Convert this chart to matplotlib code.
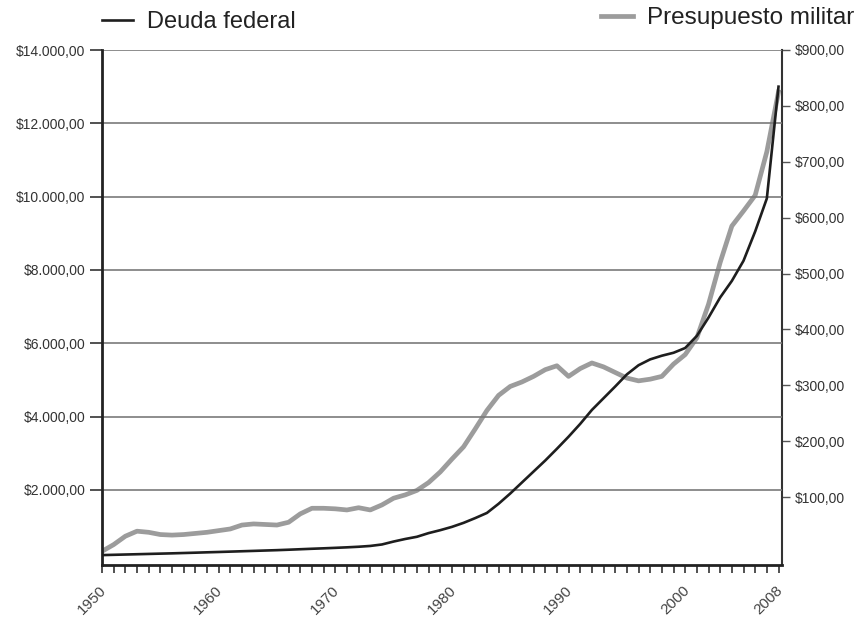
import matplotlib
matplotlib.use("Agg")
import matplotlib.pyplot as plt
from matplotlib.ticker import FuncFormatter
import matplotlib.transforms as mtransforms

plt.rcParams['font.family'] = ['Liberation Sans', 'DejaVu Sans']

years = list(range(1950, 2009))
deuda_federal = [220, 228, 236, 244, 252, 260, 268, 277, 286, 296,
                 305, 315, 325, 335, 345, 355, 367, 380, 393, 405,
                 418, 432, 448, 470, 510, 590, 660, 720, 820, 900,
                 990, 1100, 1230, 1370, 1620, 1900, 2200, 2500, 2800, 3120,
                 3450, 3800, 4180, 4500, 4820, 5150, 5400, 5560, 5660, 5740,
                 5870, 6200, 6700, 7250, 7700, 8250, 9050, 9950, 13000]
presupuesto_militar = [3, 15, 30, 39, 37, 33, 32, 33, 35, 37,
                       40, 43, 50, 52, 51, 50, 55, 70, 80, 80,
                       79, 77, 81, 77, 86, 98, 104, 112, 126, 145,
                       168, 190, 222, 255, 282, 298, 306, 316, 328, 335,
                       316, 330, 340, 333, 323, 313, 308, 311, 316, 338,
                       355, 385, 445, 520, 585, 612, 640, 718, 825]
label_years = [1950, 1960, 1970, 1980, 1990, 2000, 2008]
left_ticks = [2000, 4000, 6000, 8000, 10000, 12000, 14000]
right_ticks = [100, 200, 300, 400, 500, 600, 700, 800, 900]

W, H = 859, 619
fig = plt.figure(figsize=(W / 100, H / 100), dpi=100)
ax = fig.add_axes([102 / W, 1 - 565 / H, (782 - 102) / W, (565 - 50) / H])
ax2 = ax.twinx()

txt_col = '#333333'
grid_col = '#7a7a7a'

for yv in left_ticks:
    ax.axhline(yv, color=grid_col, lw=1.2, zorder=1)

l1, = ax.plot(years, deuda_federal, color='#1e1e1e', lw=1.9, zorder=4,
              label='Deuda federal')
l2, = ax2.plot(years, presupuesto_militar, color='#9c9c9c', lw=3.4, zorder=3,
               label='Presupuesto militar')
ax.set_zorder(ax2.get_zorder() + 1)
ax.patch.set_visible(False)

ax.set_xlim(1950, 2008.3)
ax.set_ylim(-50, 14000)
ax2.set_ylim(-21.5, 898)

def fmt_left(v, pos):
    s = f"{int(v):,}".replace(",", ".")
    return f"${s},00"

def fmt_right(v, pos):
    return f"${int(v)},00"

ax.set_yticks(left_ticks)
ax.yaxis.set_major_formatter(FuncFormatter(fmt_left))
ax2.set_yticks(right_ticks)
ax2.yaxis.set_major_formatter(FuncFormatter(fmt_right))

ax.set_xticks(years)
ax.set_xticklabels([str(y) if y in label_years else '' for y in years])
ax.tick_params(axis='x', length=6, width=1.2, color='#333333', pad=3,
               labelsize=11, labelcolor='#444444')
for lab in ax.get_xticklabels():
    lab.set_rotation(45)
    lab.set_ha('right')
    lab.set_va('top')
    lab.set_rotation_mode('anchor')
    lab.set_transform(lab.get_transform() +
                      mtransforms.ScaledTranslation(-3 / 100, -6 / 100, fig.dpi_scale_trans))

ax.tick_params(axis='y', length=9, width=1.2, color='#333333', pad=3,
               labelsize=10, labelcolor=txt_col)
ax2.tick_params(axis='y', length=6, width=1.0, color='#555555', pad=3,
                labelsize=10, labelcolor=txt_col)

for a in (ax, ax2):
    a.spines['top'].set_visible(False)
ax.spines['left'].set_linewidth(2.0)
ax.spines['left'].set_color('#222222')
ax.spines['bottom'].set_linewidth(2.0)
ax.spines['bottom'].set_color('#222222')
ax.spines['right'].set_visible(False)
ax2.spines['left'].set_visible(False)
ax2.spines['bottom'].set_visible(False)
ax2.spines['right'].set_linewidth(1.5)
ax2.spines['right'].set_color('#333333')

leg1 = fig.legend(handles=[l1], loc='center left', bbox_to_anchor=(102 / W, 1 - 22 / H),
                  frameon=False, fontsize=17, handlelength=1.3, handletextpad=0.6,
                  borderpad=0, borderaxespad=0, labelcolor='#222222')
leg2 = fig.legend(handles=[l2], loc='center left', bbox_to_anchor=(601 / W, 1 - 18 / H),
                  frameon=False, fontsize=17.5, handlelength=1.3, handletextpad=0.6,
                  borderpad=0, borderaxespad=0, labelcolor='#222222')

fig.savefig('out.png', dpi=100)
